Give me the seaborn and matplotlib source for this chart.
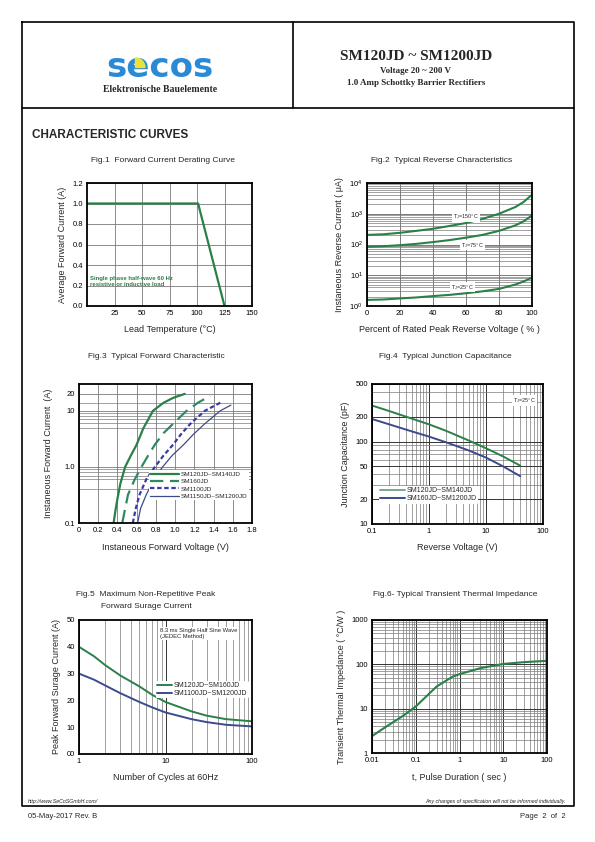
import matplotlib
matplotlib.use("Agg")
import matplotlib.pyplot as plt
import pandas as pd
import seaborn as sns
from matplotlib.lines import Line2D
from matplotlib.patches import Wedge
from matplotlib.transforms import IdentityTransform
from matplotlib.ticker import FixedLocator, NullFormatter, LogLocator

# ------------------- data

# Fig.1 derating
derate_temp = [0, 101, 125]
derate_amp = [1.0, 1.0, 0.0]

# Fig.2 reverse current vs % rated voltage
rev_pct = [0, 10, 20, 30, 40, 50, 60, 70, 80, 90, 95, 100]
rev_25c = [1.58, 1.63, 1.76, 1.9, 2.1, 2.3, 2.6, 3.0, 3.6, 5.0, 6.3, 8.4]
rev_75c = [84, 88, 95, 105, 120, 139, 167, 205, 278, 420, 570, 880]
rev_150c = [205, 215, 240, 278, 325, 400, 500, 680, 1000, 1660, 2440, 4170]

# Fig.3 forward characteristic
vf_120 = [0.36, 0.38, 0.40, 0.43, 0.48, 0.54, 0.60, 0.67, 0.72, 0.77, 0.88, 0.98, 1.10]
if_120 = [0.1, 0.17, 0.27, 0.5, 1.0, 1.6, 2.5, 4.9, 7.0, 10.0, 13.9, 17.0, 20.0]
vf_160 = [0.45, 0.48, 0.51, 0.58, 0.65, 0.72, 0.79, 0.88, 0.98, 1.12, 1.24, 1.365]
if_160 = [0.1, 0.18, 0.32, 0.6, 1.0, 1.6, 2.5, 4.0, 5.9, 10.0, 14.0, 18.4]
vf_1100 = [0.56, 0.59, 0.63, 0.70, 0.79, 0.88, 0.98, 1.06, 1.16, 1.31, 1.49]
if_1100 = [0.1, 0.18, 0.32, 0.6, 1.0, 1.6, 2.5, 3.8, 5.9, 10.0, 14.5]
vf_1150 = [0.61, 0.64, 0.70, 0.78, 0.87, 0.97, 1.09, 1.19, 1.31, 1.47, 1.58]
if_1150 = [0.1, 0.18, 0.32, 0.6, 1.0, 1.6, 2.5, 3.8, 5.9, 10.0, 12.6]
fwd_labels = ["SM120JD~SM140JD", "SM160JD", "SM1100JD", "SM1150JD~SM1200JD"]

# Fig.4 junction capacitance
cap_v = [0.1, 0.2, 0.5, 1, 2, 5, 10, 20, 40]
cap_low = [274, 235, 190, 162, 135, 103, 83, 66, 51]
cap_high = [188, 162, 133, 115, 98, 78, 64, 50, 38]
cap_labels = ["SM120JD~SM140JD", "SM160JD~SM1200JD"]

# Fig.5 surge current
surge_cycles = [1, 1.5, 2, 3, 5, 7, 10, 20, 30, 50, 100]
surge_low = [40, 36.4, 33.2, 29.3, 25.2, 22.1, 19.4, 15.9, 14.3, 13.0, 12.2]
surge_high = [30, 27.7, 25.6, 22.7, 19.4, 17.4, 15.5, 13.0, 11.9, 10.9, 10.3]
surge_labels = ["SM120JD~SM160JD", "SM1100JD~SM1200JD"]

# Fig.6 transient thermal impedance
zth_t = [0.01, 0.02, 0.05, 0.1, 0.3, 0.7, 1, 3, 10, 30, 100]
zth_val = [2.4, 3.8, 6.8, 11.2, 31.6, 53, 60, 82, 102, 112, 120]

GREEN = "#2a8048"
TEAL = "#2f8a62"
PURPLE = "#3b3ba8"
NAVY = "#3c4b8c"
GRID = "#7a7a7a"

sns.set_style("white")
plt.rcParams["font.family"] = ["Liberation Sans", "DejaVu Sans"]
plt.rcParams["mathtext.default"] = "regular"

W, H = 595, 842
fig = plt.figure(figsize=(5.95, 8.42), dpi=100)


def px_axes(x0, y0, x1, y1):
    return fig.add_axes([x0 / W, 1 - y1 / H, (x1 - x0) / W, (y1 - y0) / H])


def ftext(x, y, s, **kw):
    fig.text(x / W, 1 - y / H, s, **kw)


def fline(xs, ys, lw=1.2):
    fig.add_artist(Line2D([x / W for x in xs], [1 - y / H for y in ys], color="black", lw=lw))


def style_axes(ax, xlabel, ylabel, xpad=6, ypad=4):
    for sp in ax.spines.values():
        sp.set_color("black")
        sp.set_linewidth(1.3)
    ax.tick_params(which="both", length=0, labelsize=5.5, pad=3, colors="black")
    ax.set_xlabel(xlabel, fontsize=6.5, labelpad=xpad)
    ax.set_ylabel(ylabel, fontsize=6.5, labelpad=ypad)


# ------------------- page frame and header
fline([22, 574, 574, 22, 22], [22, 22, 806, 806, 22])
fline([22, 574], [108, 108])
fline([293, 293], [22, 108])

ftext(160, 77, "secos", fontsize=24.5, fontweight="bold", color="#2b8ad6",
      family="DejaVu Sans", ha="center", va="baseline", zorder=2)
fig.add_artist(Wedge((135.5, H - 67.5), 9.5, 0, 90, color="#e8e23a",
                     transform=IdentityTransform(), zorder=3))
ftext(160, 89.5, "Elektronische Bauelemente", fontsize=7, fontweight="bold",
      family="Liberation Serif", ha="center", va="center")
ftext(416, 57, "SM120JD ~ SM1200JD", fontsize=11, fontweight="bold",
      family="Liberation Serif", ha="center", va="center")
ftext(416, 71, "Voltage 20 ~ 200 V", fontsize=6.5, fontweight="bold",
      family="Liberation Serif", ha="center", va="center")
ftext(416, 83, "1.0 Amp Schottky Barrier Rectifiers", fontsize=6.5, fontweight="bold",
      family="Liberation Serif", ha="center", va="center")

ftext(32, 135, "CHARACTERISTIC CURVES", fontsize=8.5, fontweight="bold", va="center")

# ------------------- Fig.1
ftext(163, 160, "Fig.1  Forward Current Derating Curve", fontsize=6, ha="center", va="center")
ax1 = px_axes(87, 183, 252, 306)
df1 = pd.DataFrame({"temp": derate_temp, "amp": derate_amp})
sns.lineplot(data=df1, x="temp", y="amp", ax=ax1, color=GREEN, lw=1.6, estimator=None, sort=False)
ax1.set_xlim(0, 150)
ax1.set_ylim(0, 1.2)
ax1.set_xticks([25, 50, 75, 100, 125, 150])
ax1.set_yticks([0, 0.2, 0.4, 0.6, 0.8, 1.0, 1.2])
ax1.set_yticklabels(["0.0", "0.2", "0.4", "0.6", "0.8", "1.0", "1.2"])
ax1.grid(True, color=GRID, lw=0.6)
ax1.text(3, 0.24, "Single phase half-wave 60 Hz\nresistive or inductive load", color=GREEN,
         fontsize=4.3, fontweight="bold", va="center", linespacing=1.1)
style_axes(ax1, "Lead Temperature (\u00b0C)", "Average Forward Current (A)")

# ------------------- Fig.2
ftext(442, 160, "Fig.2  Typical Reverse Characteristics", fontsize=6, ha="center", va="center")
ax2 = px_axes(367, 183, 532, 306)
n2 = len(rev_pct)
df2 = pd.DataFrame({"pct": rev_pct * 3,
                    "cur": rev_25c + rev_75c + rev_150c,
                    "tj": ["25"] * n2 + ["75"] * n2 + ["150"] * n2})
sns.lineplot(data=df2, x="pct", y="cur", hue="tj", ax=ax2, palette=[GREEN] * 3,
             lw=1.5, estimator=None, legend=False)
ax2.set_yscale("log")
ax2.set_xlim(0, 100)
ax2.set_ylim(1, 1e4)
ax2.set_xticks([0, 20, 40, 60, 80, 100])
ax2.set_yticks([1, 10, 100, 1000, 10000])
ax2.set_yticklabels(["$10^0$", "$10^1$", "$10^2$", "$10^3$", "$10^4$"])
ax2.yaxis.set_minor_locator(LogLocator(base=10, subs=range(2, 10)))
ax2.yaxis.set_minor_formatter(NullFormatter())
ax2.grid(True, which="major", color=GRID, lw=0.7)
ax2.grid(True, which="minor", axis="y", color=GRID, lw=0.5)
for xx, yy, lab in [(60, 800, "T$_J$=150\u00b0C"), (64, 95, "T$_J$=75\u00b0C"), (58, 4.1, "T$_J$=25\u00b0C")]:
    ax2.text(xx, yy, lab, fontsize=4, ha="center", va="center",
             bbox=dict(facecolor="white", edgecolor="none", pad=0.6))
style_axes(ax2, "Percent of Rated Peak Reverse Voltage ( % )", "Instaneous Reverse Current ( \u03bcA)")

# ------------------- Fig.3
ftext(156, 356, "Fig.3  Typical Forward Characteristic", fontsize=6, ha="center", va="center")
ax3 = px_axes(79, 384, 252, 523)
fwd = [(vf_120, if_120, GREEN, "-", 1.6), (vf_160, if_160, TEAL, (0, (6, 3)), 1.6),
       (vf_1100, if_1100, PURPLE, (0, (2, 1.2)), 1.6), (vf_1150, if_1150, NAVY, "-", 0.9)]
for (vx, iy, col, ls, lw), lab in zip(fwd, fwd_labels):
    sns.lineplot(x=vx, y=iy, ax=ax3, color=col, lw=lw, linestyle=ls, label=lab, estimator=None)
ax3.set_yscale("log")
ax3.set_xlim(0, 1.8)
ax3.set_ylim(0.1, 30)
ax3.set_xticks([0, 0.2, 0.4, 0.6, 0.8, 1.0, 1.2, 1.4, 1.6, 1.8])
ax3.set_xticklabels(["0", "0.2", "0.4", "0.6", "0.8", "1.0", "1.2", "1.4", "1.6", "1.8"])
ax3.yaxis.set_major_locator(FixedLocator([0.1, 1, 10, 20]))
ax3.set_yticklabels(["0.1", "1.0", "10", "20"])
ax3.yaxis.set_minor_locator(FixedLocator([0.4, 0.6, 0.7, 0.8, 0.9, 5, 6, 7, 8, 9, 14]))
ax3.yaxis.set_minor_formatter(NullFormatter())
ax3.grid(True, which="major", color=GRID, lw=0.6)
ax3.grid(True, which="minor", axis="y", color=GRID, lw=0.5)
ax3.legend(loc="lower right", bbox_to_anchor=(1.0, 0.14), fontsize=4.6, frameon=True,
           facecolor="white", edgecolor="none", framealpha=1, handlelength=4.5,
           borderpad=0.2, labelspacing=0.3, handletextpad=0.3)
style_axes(ax3, "Instaneous Forward Voltage (V)", "Instaneous Forward Current  (A)", ypad=8)

# ------------------- Fig.4
ftext(445, 356, "Fig.4  Typical Junction Capacitance", fontsize=6, ha="center", va="center")
ax4 = px_axes(372, 384, 543, 524)
n4 = len(cap_v)
df4 = pd.DataFrame({"v": cap_v * 2, "c": cap_low + cap_high,
                    "part": [cap_labels[0]] * n4 + [cap_labels[1]] * n4})
sns.lineplot(data=df4, x="v", y="c", hue="part", ax=ax4, palette=[GREEN, NAVY],
             lw=1.4, estimator=None)
ax4.set_xscale("log")
ax4.set_yscale("log")
ax4.set_xlim(0.1, 100)
ax4.set_ylim(10, 500)
ax4.xaxis.set_major_locator(FixedLocator([0.1, 1, 10, 100]))
ax4.set_xticklabels(["0.1", "1", "10", "100"])
ax4.xaxis.set_minor_locator(LogLocator(base=10, subs=range(2, 10)))
ax4.xaxis.set_minor_formatter(NullFormatter())
ax4.yaxis.set_major_locator(FixedLocator([10, 20, 50, 100, 200, 500]))
ax4.set_yticklabels(["10", "20", "50", "100", "200", "500"])
ax4.yaxis.set_minor_locator(LogLocator(base=10, subs=range(2, 10)))
ax4.yaxis.set_minor_formatter(NullFormatter())
ax4.grid(True, which="major", color="#333333", lw=0.7)
ax4.grid(True, which="minor", color=GRID, lw=0.5)
ax4.text(0.89, 0.88, "T$_J$=25\u00b0C", transform=ax4.transAxes, fontsize=4, ha="center",
         va="center", bbox=dict(facecolor="white", edgecolor="none", pad=0.8))
leg4 = ax4.legend(loc="lower left", bbox_to_anchor=(0.02, 0.12), fontsize=5, frameon=True,
                  facecolor="white", edgecolor="none", framealpha=1, handlelength=3.5,
                  borderpad=0.2, labelspacing=0.2, handletextpad=0.3, title=None)
leg4.get_lines()[0].set_color("#7aa88c")
style_axes(ax4, "Reverse Voltage (V)", "Junction Capacitance (pF)")

# ------------------- Fig.5
ftext(146, 595, "Fig.5  Maximum Non-Repetitive Peak", fontsize=6, ha="center", va="center")
ftext(146, 606, "Forward Surage Current", fontsize=6, ha="center", va="center")
ax5 = px_axes(79, 620, 252, 754)
n5 = len(surge_cycles)
df5 = pd.DataFrame({"n": surge_cycles * 2, "a": surge_low + surge_high,
                    "part": [surge_labels[0]] * n5 + [surge_labels[1]] * n5})
sns.lineplot(data=df5, x="n", y="a", hue="part", ax=ax5, palette=[GREEN, NAVY],
             lw=1.4, estimator=None)
ax5.set_xscale("log")
ax5.set_xlim(1, 100)
ax5.set_ylim(0, 50)
ax5.xaxis.set_major_locator(FixedLocator([1, 10, 100]))
ax5.set_xticklabels(["1", "10", "100"])
ax5.xaxis.set_minor_locator(LogLocator(base=10, subs=range(2, 10)))
ax5.xaxis.set_minor_formatter(NullFormatter())
ax5.set_yticks([0, 10, 20, 30, 40, 50])
ax5.set_yticklabels(["00", "10", "20", "30", "40", "50"])
ax5.grid(True, which="major", axis="x", color="#333333", lw=0.7)
ax5.grid(True, which="minor", axis="x", color=GRID, lw=0.5)
ax5.text(0.47, 0.9, "8.3 ms Single Half Sine Wave\n(JEDEC Method)", transform=ax5.transAxes,
         fontsize=4.2, ha="left", va="center", linespacing=1.3,
         bbox=dict(facecolor="white", edgecolor="none", pad=0.5))
ax5.legend(loc="center right", bbox_to_anchor=(1.0, 0.48), fontsize=5, frameon=True,
           facecolor="white", edgecolor="none", framealpha=1, handlelength=2.2,
           borderpad=0.2, labelspacing=0.1, handletextpad=0.2, title=None)
style_axes(ax5, "Number of Cycles at 60Hz", "Peak Forward Surage Current (A)")

# ------------------- Fig.6
ftext(455, 595, "Fig.6- Typical Transient Thermal Impedance", fontsize=6, ha="center", va="center")
ax6 = px_axes(372, 620, 547, 753)
df6 = pd.DataFrame({"t": zth_t, "z": zth_val})
sns.lineplot(data=df6, x="t", y="z", ax=ax6, color=GREEN, lw=1.5, estimator=None)
ax6.set_xscale("log")
ax6.set_yscale("log")
ax6.set_xlim(0.01, 100)
ax6.set_ylim(1, 1000)
ax6.xaxis.set_major_locator(FixedLocator([0.01, 0.1, 1, 10, 100]))
ax6.set_xticklabels(["0.01", "0.1", "1", "10", "100"])
ax6.yaxis.set_major_locator(FixedLocator([1, 10, 100, 1000]))
ax6.set_yticklabels(["1", "10", "100", "1000"])
for axis in (ax6.xaxis, ax6.yaxis):
    axis.set_minor_locator(LogLocator(base=10, subs=range(2, 10)))
    axis.set_minor_formatter(NullFormatter())
ax6.grid(True, which="major", color="#333333", lw=0.7)
ax6.grid(True, which="minor", color=GRID, lw=0.5)
style_axes(ax6, "t, Pulse Duration ( sec )", "Transient Thermal Impedance ( \u00b0C/W )")

# ------------------- footer
ftext(28, 801, "http://www.SeCoSGmbH.com/", fontsize=3.8, style="italic", va="center")
ftext(566, 801, "Any changes of specification will not be informed individually.", fontsize=3.8,
      style="italic", ha="right", va="center")
ftext(28, 816, "05-May-2017 Rev. B", fontsize=5.5, va="center")
ftext(566, 816, "Page  2  of  2", fontsize=5.5, ha="right", va="center")

fig.savefig("out.png", dpi=100, facecolor="white")
